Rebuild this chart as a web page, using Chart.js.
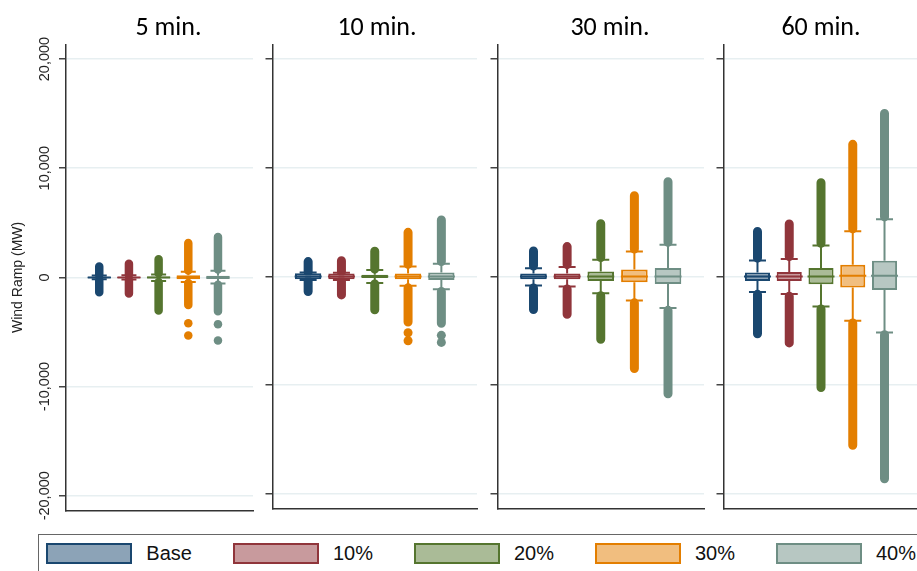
<!DOCTYPE html>
<html>
<head>
<meta charset="utf-8">
<script src="https://cdn.jsdelivr.net/npm/chart.js@4.4.0/dist/chart.umd.min.js"></script>
<style>
body { margin: 0; background: #fff; }
#wrap { position: relative; width: 917px; height: 571px; overflow: hidden; background: #fff; }
#wrap canvas { position: absolute; top: 0; }
#legend { position: absolute; left: 38px; top: 534px; width: 900px; height: 60px; box-sizing: border-box;
  border: 1.5px solid #666; display: flex; align-items: flex-start; padding: 7.8px 0 0 7.3px; gap: 41px; }
.item { display: flex; align-items: center; font: 20px "Liberation Sans", Arial, sans-serif; line-height: 21px; color: #111; }
.sw { width: 86px; height: 21px; box-sizing: border-box; border: 2px solid; margin-right: 14px; }
</style>
</head>
<body>
<div id="wrap">
  <canvas id="p0" width="337" height="524"></canvas>
  <canvas id="p1" width="240" height="524"></canvas>
  <canvas id="p2" width="256" height="524"></canvas>
  <canvas id="p3" width="226" height="524"></canvas>
  <div id="legend"></div>
</div>
<script>
const panelTitles = ['5 min.', '10 min.', '30 min.', '60 min.'];
const groupLabels = ['Base', '10%', '20%', '30%', '40%'];
const yTicks = [-20000, -10000, 0, 10000, 20000];

// box plot summaries (MW): one row per panel, one value per group
const lowerAdjacent = [
  [-170, -190, -330, -420, -560],
  [-330, -340, -600, -850, -1180],
  [-840, -930, -1560, -2220, -2910],
  [-1440, -1620, -2780, -4070, -5150]
];
const lowerQuartile = [
  [-60, -60, -80, -180, -150],
  [-270, -270, -150, -270, -330],
  [-270, -270, -420, -540, -690],
  [-420, -420, -720, -1020, -1260]
];
const medians = [
  [0, 0, 0, 0, 0],
  [0, 0, 0, 0, 0],
  [0, 0, 0, 0, 0],
  [0, 0, 0, 50, 50]
];
const upperQuartile = [
  [60, 60, 80, 200, 150],
  [290, 270, 150, 270, 360],
  [270, 270, 450, 630, 770],
  [360, 410, 770, 1080, 1440]
];
const upperAdjacent = [
  [170, 190, 270, 520, 600],
  [350, 340, 590, 900, 1170],
  [740, 860, 1530, 2300, 2920],
  [1460, 1610, 2840, 4150, 5260]
];
// dense runs of outside values, [from, to]
const outlierRuns = [
  [[[230, 1000], [-1360, -230]], [[250, 1240], [-1480, -250]], [[380, 1660], [-3040, -430]], [[640, 3150], [-2530, -520]], [[720, 3690], [-3100, -680]]],
  [[[400, 1360], [-1390, -400]], [[400, 1440], [-1700, -400]], [[680, 2310], [-3070, -690]], [[1100, 4050], [-4190, -1050]], [[1370, 5190], [-4320, -1380]]],
  [[[960, 2340], [-3040, -1060]], [[1080, 2740], [-3490, -1150]], [[1740, 4850], [-5790, -1780]], [[2510, 7430], [-8480, -2430]], [[3140, 8710], [-10800, -3120]]],
  [[[1680, 4140], [-5280, -1650]], [[1830, 4830], [-6120, -1830]], [[3050, 8620], [-10220, -3000]], [[4370, 12150], [-15540, -4290]], [[5470, 14990], [-18610, -5370]]]
];
// isolated outside values
const outlierPoints = [
  [[], [], [], [-4190, -5330], [-4280, -5780]],
  [[], [], [], [-5180, -5920], [-5420, -6070]],
  [[], [], [], [], []],
  [[], [], [], [], []]
];

const lineColors = ['#1a476f', '#90353b', '#55752f', '#e37e00', '#6e8e84'];
const fillColors = ['#8ca3b7', '#c89a9d', '#aabb97', '#f1be7f', '#b7c7c2'];

// spareW: empty strip right of the plot so the full-width title sits where the reference has it
const panelLayout = [
  { left: 0, axisW: 66, spareW: 84, xMin: -0.12, xMax: 6.18, capR: 7.5, medR: 11.5, runW: 8.5 },
  { left: 257, axisW: 12, spareW: 20, xMin: -0.07, xMax: 6.07, capR: 8.5, medR: 13.5, runW: 9 },
  { left: 482, axisW: 12, spareW: 34, xMin: -0.07, xMax: 6.07, capR: 8.5, medR: 13.5, runW: 9 },
  { left: 708, axisW: 12, spareW: 5, xMin: -0.07, xMax: 6.07, capR: 8.5, medR: 13.5, runW: 9 }
];

const rotatedTickLabels = {
  id: 'rotatedTickLabels',
  afterDraw(chart) {
    const scale = chart.scales.y;
    const ctx = chart.ctx;
    ctx.save();
    ctx.font = '14.5px "Liberation Sans", Arial, sans-serif';
    ctx.fillStyle = '#222';
    ctx.textAlign = 'center';
    ctx.textBaseline = 'middle';
    scale.ticks.forEach(t => {
      ctx.save();
      ctx.translate(scale.right - 21, scale.getPixelForValue(t.value));
      ctx.rotate(-Math.PI / 2);
      ctx.fillText(t.value.toLocaleString('en-US'), 0, 0);
      ctx.restore();
    });
    ctx.restore();
  }
};

function panelDatasets(p, lay) {
  const ds = [];
  groupLabels.forEach((g, i) => {
    const x = i + 1;
    const runPts = [];
    outlierRuns[p][i].forEach(r => { runPts.push({x: x, y: r[0]}, {x: x, y: r[1]}, {x: x, y: null}); });
    ds.push({ type: 'line', order: 4, data: runPts, borderColor: lineColors[i], borderWidth: lay.runW,
      borderCapStyle: 'round', pointRadius: 0, spanGaps: false });
    ds.push({ type: 'scatter', order: 4, data: outlierPoints[p][i].map(v => ({x: x, y: v})),
      pointRadius: lay.runW / 2, backgroundColor: lineColors[i], pointBackgroundColor: lineColors[i],
      borderWidth: 0, pointBorderWidth: 0 });
    ds.push({ type: 'line', order: 3,
      data: [{x: x, y: upperQuartile[p][i]}, {x: x, y: upperAdjacent[p][i]}, {x: x, y: null},
             {x: x, y: lowerQuartile[p][i]}, {x: x, y: lowerAdjacent[p][i]}],
      borderColor: lineColors[i], borderWidth: 2, pointRadius: 0, spanGaps: false });
    ds.push({ type: 'scatter', order: 2,
      data: [{x: x, y: upperAdjacent[p][i]}, {x: x, y: lowerAdjacent[p][i]}],
      pointStyle: 'line', pointRadius: lay.capR, borderColor: lineColors[i],
      pointBorderColor: lineColors[i], pointBorderWidth: 2, borderWidth: 2 });
    ds.push({ type: 'bar', order: 1, data: [{x: x, y: [lowerQuartile[p][i], upperQuartile[p][i]]}],
      backgroundColor: fillColors[i], borderColor: lineColors[i], borderWidth: 2, borderSkipped: false,
      grouped: false, barPercentage: 0.79, categoryPercentage: 1 });
    ds.push({ type: 'scatter', order: 0, data: [{x: x, y: medians[p][i]}],
      pointStyle: 'line', pointRadius: lay.medR, borderColor: lineColors[i],
      pointBorderColor: lineColors[i], pointBorderWidth: 2, borderWidth: 2 });
  });
  return ds;
}

panelTitles.forEach((title, p) => {
  const lay = panelLayout[p];
  const canvas = document.getElementById('p' + p);
  canvas.style.left = lay.left + 'px';
  new Chart(canvas, {
    type: 'scatter',
    data: { datasets: panelDatasets(p, lay) },
    options: {
      responsive: false,
      animation: false,
      events: [],
      layout: { padding: { left: 0, right: 0, top: 0, bottom: 3 } },
      plugins: {
        legend: { display: false },
        tooltip: { enabled: false },
        title: {
          display: true, text: title, color: '#000',
          font: { family: 'Carlito, Calibri, Lato, sans-serif', size: 26, weight: 'normal', lineHeight: 1 },
          padding: { top: 15.5, bottom: 2.8 }
        }
      },
      scales: {
        x: {
          type: 'linear', min: lay.xMin, max: lay.xMax, offset: false,
          afterBuildTicks: s => { s.ticks = groupLabels.map((g, i) => ({value: i + 1})); },
          ticks: { display: false },
          grid: { display: false },
          border: { display: true, color: '#333', width: 1.5 }
        },
        y: {
          type: 'linear', min: -21350, max: 21350,
          afterBuildTicks: s => { s.ticks = yTicks.map(v => ({value: v})); },
          afterFit: s => { s.width = lay.axisW; },
          ticks: { display: false },
          grid: { color: '#e7eff1', lineWidth: 1.5, tickLength: 7, tickColor: '#444', tickWidth: 1.5 },
          border: { display: true, color: '#333', width: 1.5 },
          title: {
            display: p === 0, text: 'Wind Ramp (MW)', color: '#222',
            font: { family: '"Liberation Sans", Arial, sans-serif', size: 14 },
            padding: { top: 9.5, bottom: 0 }
          }
        },
        spare: {
          type: 'linear', position: 'right', display: true, min: -21350, max: 21350,
          afterFit: s => { s.width = lay.spareW; },
          ticks: { display: false },
          grid: { display: false, drawOnChartArea: false },
          border: { display: false }
        }
      }
    },
    plugins: p === 0 ? [rotatedTickLabels] : []
  });
});

const legend = document.getElementById('legend');
groupLabels.forEach((g, i) => {
  const item = document.createElement('div');
  item.className = 'item';
  const sw = document.createElement('span');
  sw.className = 'sw';
  sw.style.background = fillColors[i];
  sw.style.borderColor = lineColors[i];
  item.appendChild(sw);
  item.appendChild(document.createTextNode(g));
  legend.appendChild(item);
});
</script>
</body>
</html>
